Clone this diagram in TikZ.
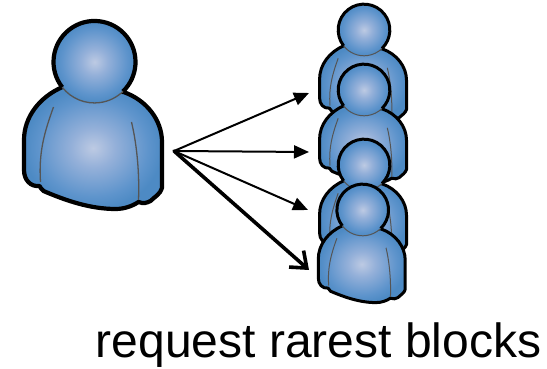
\documentclass[tikz,border=0pt]{standalone}
\usepackage{fontspec}
\setmainfont{Liberation Sans}
\usetikzlibrary{arrows.meta}
\definecolor{pgray}{RGB}{85,85,85}
\definecolor{sA}{RGB}{189,202,227}
\definecolor{sB}{RGB}{148,176,217}
\definecolor{sC}{RGB}{94,148,204}
\definecolor{sD}{RGB}{77,138,196}
\pgfdeclareradialshading{personshade}{\pgfpoint{0bp}{0bp}}{%
  color(0bp)=(sA);
  color(8bp)=(sB);
  color(20bp)=(sC);
  color(25bp)=(sD);
  color(50bp)=(sD)}
\tikzset{
  pics/person/.style 2 args={code={
    \path[shading=personshade,draw=black,line width=#1,line join=round]
      (-32,-25) .. controls (-55,-35) and (-70.5,-55) .. (-70.5,-78)
      -- (-70.5,-108) .. controls (-70.5,-118) and (-64,-125) .. (-55,-124)
      .. controls (-54,-126) and (-53,-127) .. (-51,-129)
      .. controls (-30,-138) and (-5,-147) .. (21,-147)
      .. controls (30,-147) and (38,-144) .. (44,-140)
      .. controls (49,-142) and (52,-141) .. (56,-139)
      .. controls (60,-135) and (66,-132) .. (67.5,-126)
      -- (67.5,-80) .. controls (67.5,-58) and (52,-38) .. (29,-30)
      -- cycle;
    \draw[pgray,line width=#2] (-41,-45) .. controls (-50,-70) and (-56,-90) .. (-54,-120);
    \draw[pgray,line width=#2] (37,-60) .. controls (43,-85) and (45,-115) .. (44,-138);
    \path[shading=personshade] (0,0) circle[radius=41];
    \draw[black,line width=#1] (-32.3,-25.2) arc[start angle=218,end angle=-46,radius=41];
    \draw[pgray,line width=#2] (-32.3,-25.2) arc[start angle=218,end angle=314,radius=41];
  }},
  link/.style={line width=2pt,-{Triangle[length=15pt,width=13pt]}},
  strong/.style={line width=3.6pt,line cap=round,-{Straight Barb[length=14pt,width=22pt,line width=3.6pt]}}
}
\begin{document}
\begin{tikzpicture}[x=1pt,y=1pt]
\useasboundingbox (0,0) rectangle (547,369);
\pic (big) at (94.5,307) {person={4.2pt}{1.3pt}};
\pic[scale=0.63] (p1) at (364,339) {person={3pt}{1pt}};
\pic[scale=0.63] (p2) at (364,279) {person={3pt}{1pt}};
\pic[scale=0.63] (p3) at (364,204) {person={3pt}{1pt}};
\pic[scale=0.63] (p4) at (362.7,159) {person={3pt}{1pt}};
\coordinate (hub) at (174,218);
\coordinate (t1) at (309,276);
\coordinate (t2) at (309,217);
\coordinate (t3) at (308,159);
\coordinate (t4) at (309,99);
\draw[link] (hub) -- (t1);
\draw[link] (hub) -- (t2);
\draw[link] (hub) -- (t3);
\draw[strong] (hub) -- (t4);
\node[font=\fontsize{48}{56}\selectfont,inner sep=0pt,anchor=base] (lab) at (318.5,11) {request rarest blocks};
\end{tikzpicture}
\end{document}
